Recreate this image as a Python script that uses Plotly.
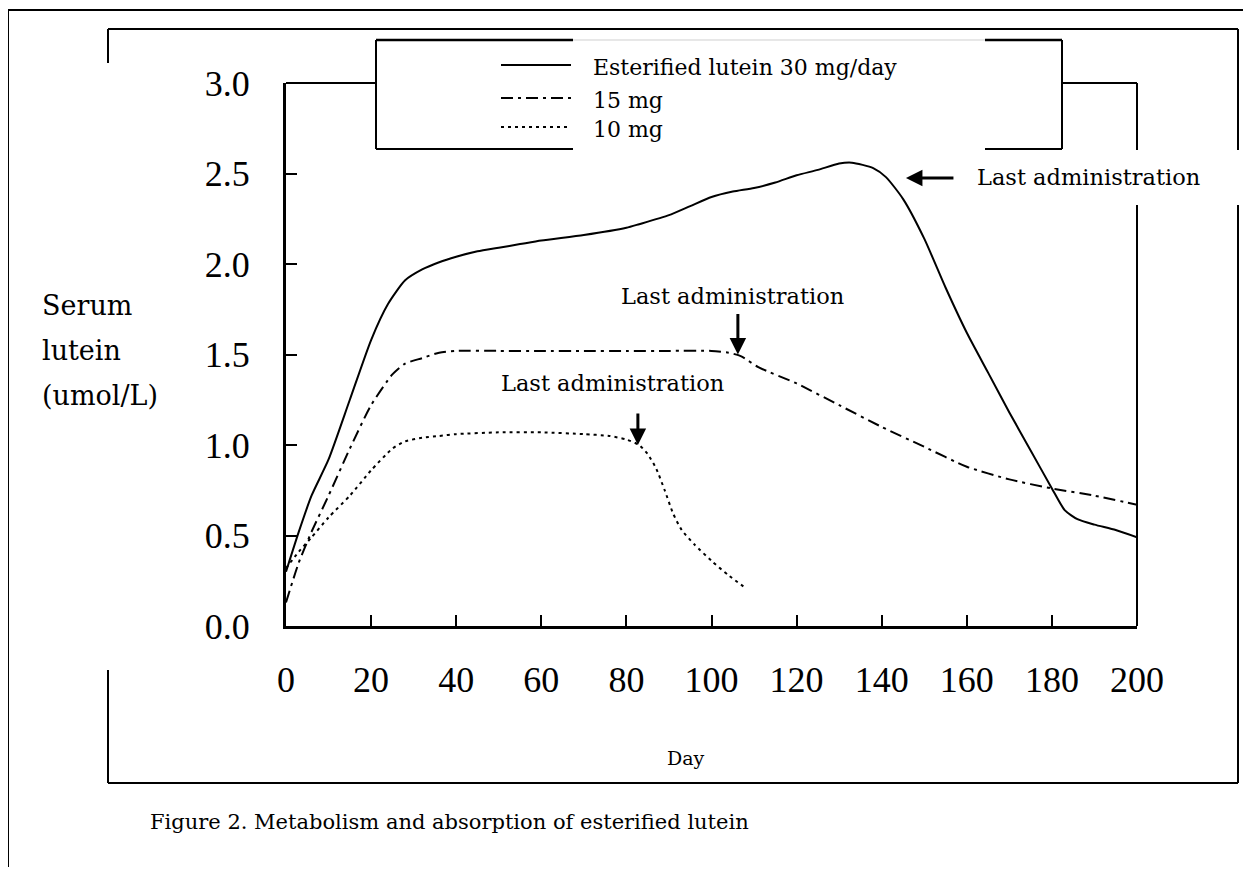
import plotly.graph_objects as go

# ---------------- data ----------------
solid_days = [0, 3, 6, 10, 15, 20, 24, 28, 32, 36, 40, 45, 50, 55, 60, 70, 80, 83, 90, 95,
              100, 105, 110, 115, 120, 125, 130, 133, 138, 141, 145, 150, 155, 160, 165,
              170, 175, 180, 183, 186, 190, 195, 200]
solid_vals = [0.30, 0.52, 0.72, 0.92, 1.25, 1.58, 1.78, 1.91, 1.97, 2.01, 2.04, 2.07, 2.09,
              2.11, 2.13, 2.16, 2.20, 2.22, 2.27, 2.32, 2.37, 2.40, 2.42, 2.45, 2.49, 2.52,
              2.555, 2.56, 2.53, 2.48, 2.36, 2.14, 1.87, 1.62, 1.40, 1.18, 0.97, 0.76, 0.64,
              0.59, 0.56, 0.53, 0.49]

dashdot_days = [0, 3, 6, 10, 15, 20, 25, 28, 32, 36, 40, 50, 60, 70, 80, 90, 100, 104, 107,
                111, 120, 130, 140, 150, 160, 170, 180, 190, 200]
dashdot_vals = [0.13, 0.35, 0.52, 0.72, 0.98, 1.22, 1.39, 1.45, 1.48, 1.51, 1.52, 1.52, 1.52,
                1.52, 1.52, 1.52, 1.52, 1.51, 1.49, 1.43, 1.34, 1.22, 1.10, 0.99, 0.88, 0.81,
                0.76, 0.72, 0.67]

dotted_days = [0, 3, 6, 10, 15, 20, 25, 28, 32, 36, 40, 50, 60, 70, 76, 80, 83, 85, 87, 89,
               91, 93, 96, 100, 104, 108]
dotted_vals = [0.32, 0.41, 0.49, 0.60, 0.72, 0.86, 0.98, 1.02, 1.04, 1.05, 1.06, 1.07, 1.07,
               1.06, 1.05, 1.03, 1.00, 0.95, 0.87, 0.75, 0.62, 0.53, 0.45, 0.36, 0.28, 0.21]

series_names = ["Esterified lutein 30 mg/day", "15 mg", "10 mg"]
x_ticks = [0, 20, 40, 60, 80, 100, 120, 140, 160, 180, 200]
y_ticks = [0.0, 0.5, 1.0, 1.5, 2.0, 2.5, 3.0]
y_tick_text = ["0.0", "0.5", "1.0", "1.5", "2.0", "2.5", "3.0"]

# last administration markers (day, value)
last_admin = [(145.7, 2.475), (106.2, 1.50), (82.7, 1.0)]

# ---------------- layout geometry (page pixels) ----------------
W, H = 1251, 875
OFF = 8                      # default body margin of the html page
FW, FH = W - 2 * OFF, H - 2 * OFF
L, R, T, B = 286, 1137, 83, 626


def px(x):
    return (x - L) / (R - L)


def py(y):
    return (B - y) / (B - T)


SERIF = "DejaVu Serif"
TIMES = "Liberation Serif"

fig = go.Figure()
styles = ["solid", "12px,5px,3px,5px", "3px,4px"]
for name, xs, ys, st in zip(series_names, [solid_days, dashdot_days, dotted_days],
                            [solid_vals, dashdot_vals, dotted_vals], styles):
    fig.add_trace(go.Scatter(x=xs, y=ys, mode="lines", name=name, showlegend=False,
                             line=dict(color="black", width=2, dash=st,
                                       shape="spline", smoothing=0.6)))

shapes = []


def seg(x0, y0, x1, y1, w=2, color="black", dash="solid"):
    shapes.append(dict(type="line", xref="paper", yref="paper",
                       x0=px(x0), y0=py(y0), x1=px(x1), y1=py(y1),
                       line=dict(color=color, width=w, dash=dash), layer="above"))


# document frames
seg(0, 10, W, 10, 2)
seg(8, 10, 8, H, 2)
seg(108, 29, 1238, 29, 2)
seg(108, 29, 108, 63, 2)
seg(108, 670, 108, 783, 2)
seg(108, 783, 1238, 783, 2)
seg(1238, 29, 1238, 150, 2)
seg(1238, 205, 1238, 783, 2)
# plot box top/right
seg(286, 83, 376, 83, 2)
seg(1062, 83, 1137, 83, 2)
seg(1137, 83, 1137, 150, 2)
seg(1137, 205, 1137, 626, 2)
# legend box
seg(376, 40, 573, 40, 2.5)
seg(573, 40, 985, 40, 1, "#cfcfcf")
seg(985, 40, 1062, 40, 2.5)
seg(376, 40, 376, 149, 2)
seg(1062, 40, 1062, 149, 2)
seg(376, 149, 573, 149, 2)
seg(985, 149, 1062, 149, 2)
# legend samples
legend_y = [65, 98, 127]
for yy, st in zip(legend_y, styles):
    seg(501, yy, 571, yy, 2, dash=st)

annotations = []
for name, yy in zip(series_names, legend_y):
    annotations.append(dict(xref="paper", yref="paper", x=px(591), y=py(yy + 2),
                            xanchor="left", yanchor="middle", text=name, showarrow=False,
                            font=dict(family=SERIF, size=22, color="black")))

# Last administration labels and arrows
label_pos = [(975, 177, "left"), (732, 296, "center"), (612, 383, "center")]
arrow_off = [(49, 0), (0, -42), (0, -33)]
for (d, v), (lx, ly, anc), (axo, ayo) in zip(last_admin, label_pos, arrow_off):
    annotations.append(dict(xref="paper", yref="paper", x=px(lx), y=py(ly),
                            xanchor=anc, yanchor="middle", text="Last administration",
                            showarrow=False, font=dict(family=SERIF, size=22.5, color="black")))
    annotations.append(dict(xref="x", yref="y", x=d, y=v, ax=axo, ay=ayo, text="",
                            showarrow=True, arrowhead=2, arrowsize=1.1, arrowwidth=3,
                            arrowcolor="black"))

# axis title (y)
for t, yy in zip(["Serum", "lutein", "(umol/L)"], [305, 350, 395]):
    annotations.append(dict(xref="paper", yref="paper", x=px(40), y=py(yy),
                            xanchor="left", yanchor="middle", text=t, showarrow=False,
                            font=dict(family=SERIF, size=27, color="black")))
# x title
annotations.append(dict(xref="paper", yref="paper", x=px(686), y=py(758),
                        xanchor="center", yanchor="middle", text="Day", showarrow=False,
                        font=dict(family=SERIF, size=19, color="black")))
# caption
annotations.append(dict(xref="paper", yref="paper", x=px(148), y=py(822),
                        xanchor="left", yanchor="middle",
                        text="Figure 2. Metabolism and absorption of esterified lutein",
                        showarrow=False, font=dict(family=SERIF, size=21, color="black")))

fig.update_layout(
    width=FW, height=FH,
    margin=dict(l=L - OFF, r=FW - (R - OFF), t=T - OFF, b=FH - (B - OFF), pad=0),
    paper_bgcolor="white", plot_bgcolor="white",
    showlegend=False,
    shapes=shapes, annotations=annotations,
    xaxis=dict(range=[0, 200], tickvals=x_ticks, ticktext=[str(v) for v in x_ticks],
               showline=True, linewidth=3, linecolor="black", ticks="inside",
               ticklen=11, tickwidth=2, tickcolor="black", showgrid=False, zeroline=False,
               tickfont=dict(family=TIMES, size=36, color="black"),
               ticklabelstandoff=20, fixedrange=True),
    yaxis=dict(range=[0, 3], tickvals=y_ticks, ticktext=y_tick_text,
               showline=True, linewidth=3, linecolor="black", ticks="inside",
               ticklen=11, tickwidth=2, tickcolor="black", showgrid=False, zeroline=False,
               tickfont=dict(family=TIMES, size=36, color="black"),
               ticklabelstandoff=26, fixedrange=True),
)

fig.write_html("out.html")
